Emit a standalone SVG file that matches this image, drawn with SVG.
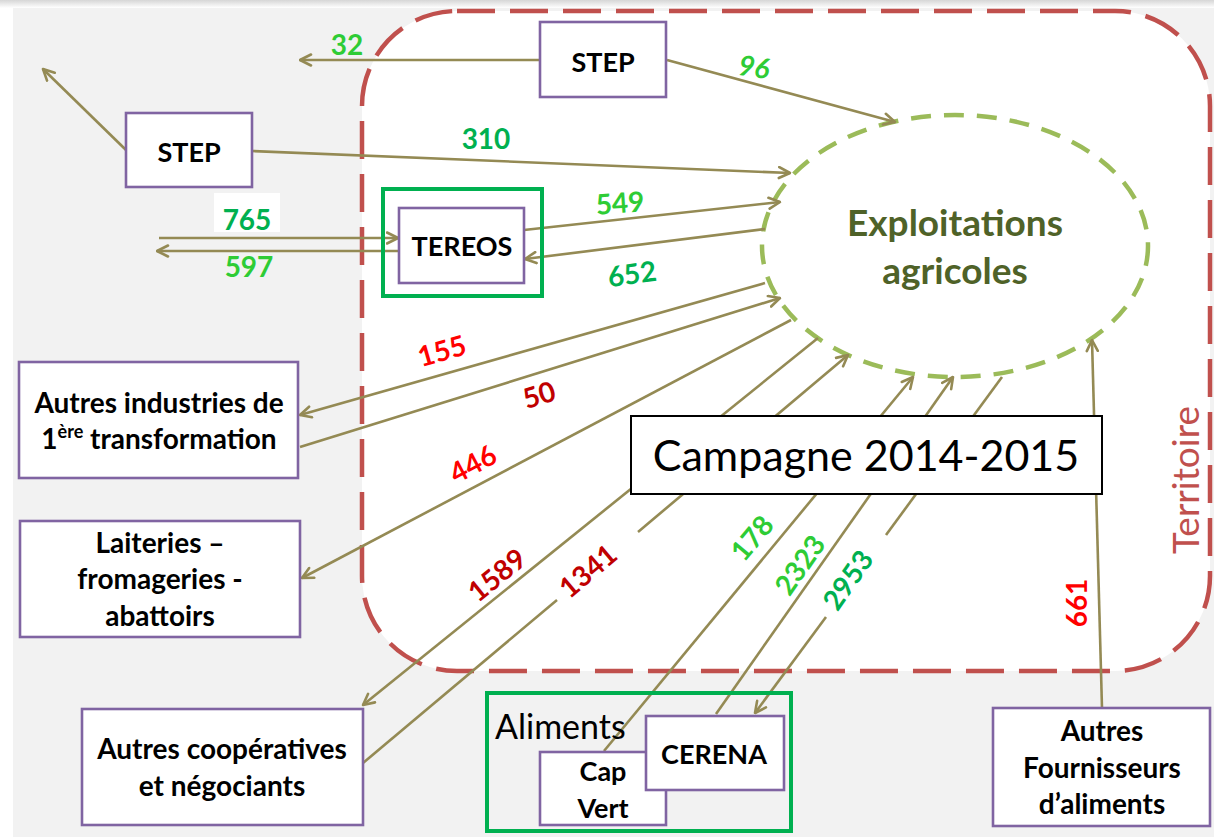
<svg xmlns="http://www.w3.org/2000/svg" width="1214" height="837" viewBox="0 0 1214 837">
<defs>
<linearGradient id="topShade" x1="0" y1="0" x2="0" y2="1">
<stop offset="0" stop-color="#d6d6d6"/><stop offset="1" stop-color="#ffffff"/>
</linearGradient>
<marker id="arr" viewBox="0 0 14 14" refX="12.5" refY="7" markerWidth="14" markerHeight="14" markerUnits="userSpaceOnUse" orient="auto">
<path d="M1.5,1.5 L12.5,7 L1.5,12.5" fill="none" stroke="#948a54" stroke-width="2.6" stroke-linecap="round" stroke-linejoin="round"/>
</marker>
<style>
.node{fill:#ffffff;stroke:#8064a2;stroke-width:2.6}
.grp{fill:none;stroke:#00b050;stroke-width:4}
.nt{font-family:Lato,"Liberation Sans",sans-serif;font-weight:bold;font-size:28px;fill:#000;text-anchor:middle}
.ns{font-size:27px}
.c{fill:none;stroke:#948a54;stroke-width:2.6}
.ca{fill:none;stroke:#948a54;stroke-width:2.6;marker-end:url(#arr)}
.num{font-family:Lato,"Liberation Sans",sans-serif;font-weight:bold;font-size:28px;text-anchor:middle}
.g1{fill:#2ecc35}
.g2{fill:#00b050}
.r1{fill:#ff0000}
.r2{fill:#c00000}
</style>
</defs>
<rect x="0" y="0" width="1214" height="837" fill="#ffffff"/>
<rect x="13" y="8" width="1201" height="829" fill="#f2f2f2"/>
<rect x="0" y="0" width="1214" height="8" fill="url(#topShade)"/>

<g id="territoire">
<rect x="362" y="11" width="848" height="660" rx="95" ry="95" fill="#ffffff" stroke="#c0504d" stroke-width="4.5" stroke-dasharray="38 15"/>
<text transform="translate(1199,480) rotate(-90)" font-family="Lato,'Liberation Sans',sans-serif" font-size="37" fill="#c0504d" text-anchor="middle">Territoire</text>
</g>

<g id="exploitations">
<ellipse cx="955" cy="246" rx="193" ry="131" fill="none" stroke="#9bbb59" stroke-width="4.5" stroke-dasharray="20 13"/>
<text x="955" y="236" font-family="Lato,'Liberation Sans',sans-serif" font-weight="bold" font-size="37" fill="#4f6228" text-anchor="middle">Exploitations</text>
<text x="955" y="284" font-family="Lato,'Liberation Sans',sans-serif" font-weight="bold" font-size="37" fill="#4f6228" text-anchor="middle">agricoles</text>
</g>

<g id="connectors">
<line class="ca" x1="540" y1="60" x2="300" y2="60"/>
<line class="ca" x1="667" y1="60" x2="895" y2="122"/>
<line class="ca" x1="126" y1="150" x2="43" y2="69"/>
<line class="ca" x1="252" y1="151" x2="790" y2="173"/>
<line class="ca" x1="159" y1="238" x2="398" y2="238"/>
<line class="ca" x1="398" y1="251" x2="157" y2="251"/>
<line class="ca" x1="524" y1="230" x2="780" y2="202"/>
<line class="ca" x1="765" y1="229" x2="525" y2="259"/>
<line class="ca" x1="765" y1="283" x2="300" y2="415"/>
<line class="ca" x1="300" y1="447" x2="780" y2="298"/>
<line class="ca" x1="791" y1="320" x2="302" y2="578"/>
<line class="ca" x1="818" y1="338" x2="363" y2="705"/>
<line class="c" x1="363" y1="763" x2="557" y2="600"/>
<line class="ca" x1="638" y1="532" x2="848" y2="355"/>
<line class="ca" x1="604" y1="751" x2="913" y2="377"/>
<line class="ca" x1="716" y1="714" x2="953" y2="377"/>
<line class="c" x1="1002" y1="377" x2="886" y2="535"/>
<line class="ca" x1="826" y1="617" x2="755" y2="713"/>
<line class="ca" x1="1102" y1="708" x2="1092" y2="340"/>
</g>

<g id="labels">
<text class="num g1" x="347" y="55">32</text>
<text class="num g1" font-style="italic" transform="translate(754,67) rotate(8)" x="0" y="10">96</text>
<text class="num g2" x="486" y="149">310</text>
<rect x="214" y="193" width="66" height="39" fill="#ffffff"/>
<text class="num g2" x="247" y="230">765</text>
<text class="num g1" x="249" y="277">597</text>
<text class="num g1" transform="translate(620,203) rotate(-4)" x="0" y="10">549</text>
<text class="num g2" transform="translate(632,274) rotate(-8)" x="0" y="10">652</text>
<text class="num r1" transform="translate(442,351) rotate(-16)" x="0" y="10">155</text>
<text class="num r2" transform="translate(539,395) rotate(-17)" x="0" y="10">50</text>
<text class="num r1" transform="translate(473,464) rotate(-28)" x="0" y="10">446</text>
<text class="num r2" transform="translate(497,575) rotate(-39)" x="0" y="10">1589</text>
<text class="num r2" transform="translate(588,571) rotate(-40)" x="0" y="10">1341</text>
<text class="num g1" transform="translate(752,538) rotate(-50)" x="0" y="10">178</text>
<text class="num g1" transform="translate(800,565) rotate(-55)" x="0" y="10">2323</text>
<text class="num g2" transform="translate(848,580) rotate(-55)" x="0" y="10">2953</text>
<text class="num r1" transform="translate(1077,603) rotate(-90)" x="0" y="10">661</text>
</g>

<g id="step-top">
<rect class="node" x="540" y="22" width="126" height="75"/>
<text class="nt ns" x="603" y="72">STEP</text>
</g>
<g id="step-left">
<rect class="node" x="126" y="113" width="126" height="74"/>
<text class="nt ns" x="189" y="162">STEP</text>
</g>
<g id="tereos">
<rect class="grp" x="383" y="189" width="159" height="107"/>
<rect class="node" x="399" y="208" width="125" height="75"/>
<text class="nt ns" x="462" y="256">TEREOS</text>
</g>
<g id="autres-industries">
<rect class="node" x="19" y="362" width="279" height="116"/>
<text class="nt" x="159" y="413">Autres industries de</text>
<text class="nt" x="159" y="449">1<tspan font-size="18" dy="-11">ère</tspan><tspan dy="11"> transformation</tspan></text>
</g>
<g id="laiteries">
<rect class="node" x="20" y="521" width="280" height="116"/>
<text class="nt" x="160" y="553">Laiteries –</text>
<text class="nt" x="160" y="589">fromageries -</text>
<text class="nt" x="160" y="626">abattoirs</text>
</g>
<g id="autres-cooperatives">
<rect class="node" x="82" y="709" width="281" height="116"/>
<text class="nt" x="222" y="759">Autres coopératives</text>
<text class="nt" x="222" y="796">et négociants</text>
</g>
<g id="aliments">
<rect class="grp" x="487" y="693" width="304" height="138"/>
<text x="495" y="739" font-family="Lato,'Liberation Sans',sans-serif" font-size="34" fill="#000">Aliments</text>
</g>
<g id="cap-vert">
<rect class="node" x="540" y="752" width="126" height="73"/>
<text class="nt ns" x="603" y="781">Cap</text>
<text class="nt ns" x="603" y="818">Vert</text>
</g>
<g id="cerena">
<rect class="node" x="646" y="716" width="138" height="74"/>
<text class="nt ns" x="714" y="764">CERENA</text>
</g>
<g id="autres-fournisseurs">
<rect class="node" x="993" y="708" width="217" height="118"/>
<text class="nt" x="1102" y="741">Autres</text>
<text class="nt" x="1102" y="778">Fournisseurs</text>
<text class="nt" x="1102" y="814">d’aliments</text>
</g>
<g id="campagne">
<rect x="631" y="416" width="471" height="78" fill="#ffffff" stroke="#000" stroke-width="2"/>
<text x="866" y="471" font-family="Lato,'Liberation Sans',sans-serif" font-size="43" fill="#000" text-anchor="middle">Campagne 2014-2015</text>
</g>
</svg>
